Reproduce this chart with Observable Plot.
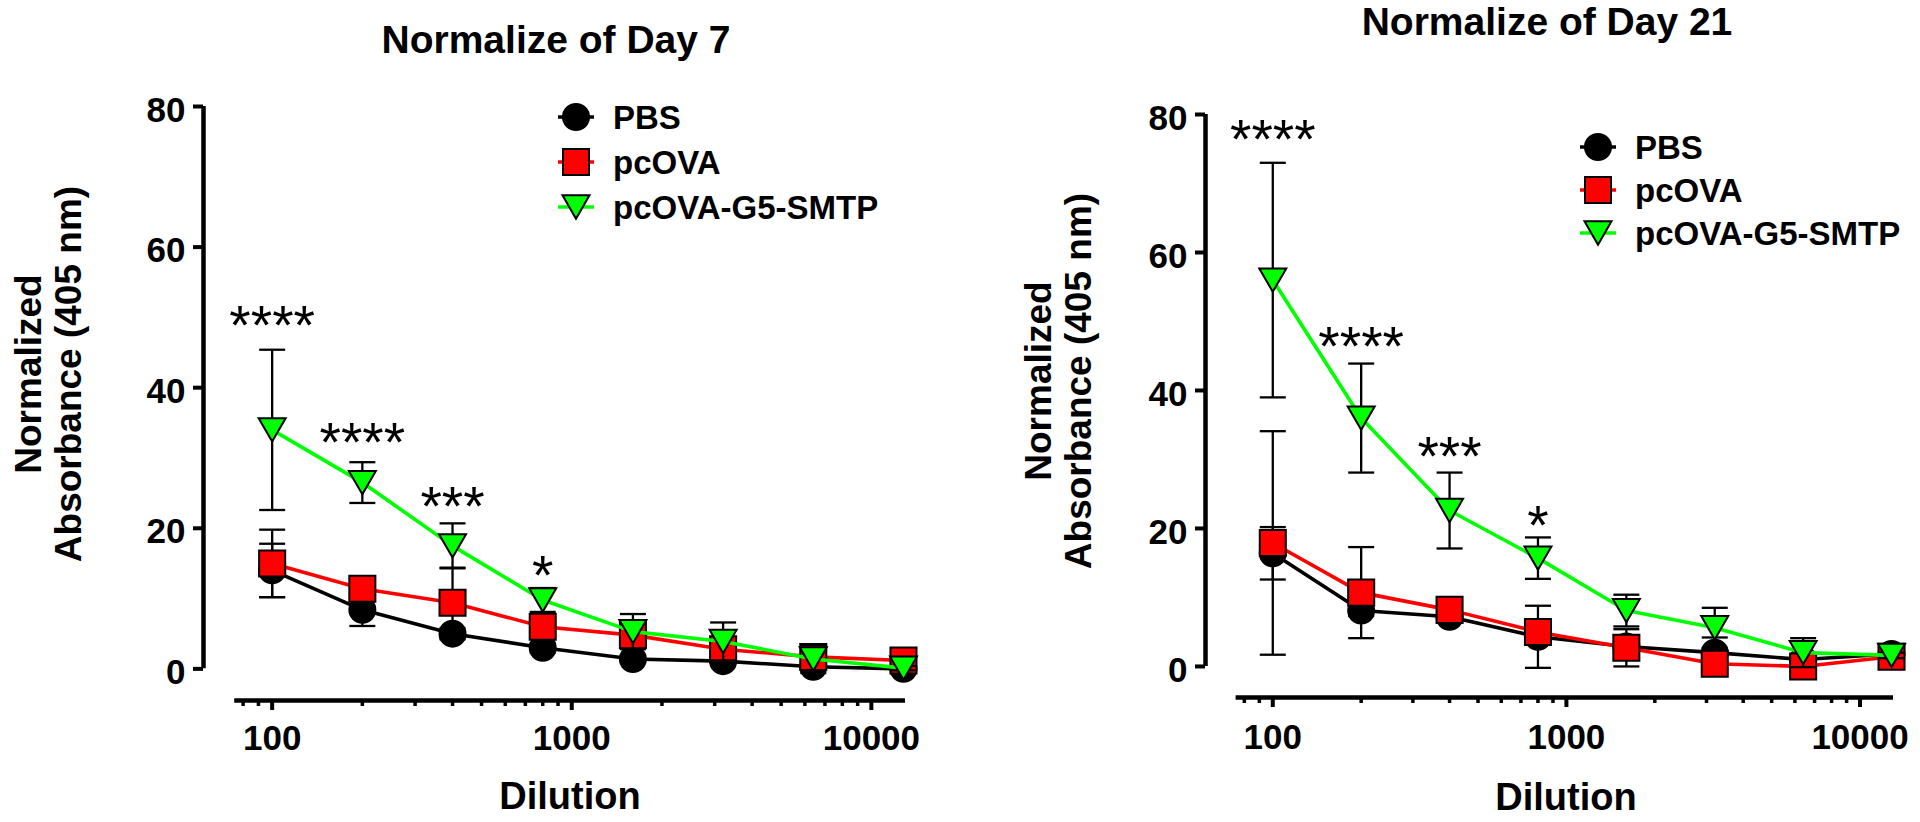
<!DOCTYPE html>
<html>
<head>
<meta charset="utf-8">
<script src="https://cdn.jsdelivr.net/npm/d3@7"></script>
<script src="https://cdn.jsdelivr.net/npm/@observablehq/plot@0.6"></script>
<style>
html, body { margin: 0; padding: 0; background: #fff; }
#root { position: relative; width: 1920px; height: 822px; overflow: hidden;
  font-family: "Liberation Sans", Arial, sans-serif; color: #000; }
.panel { position: absolute; top: 0; width: 960px; height: 822px; }
.panel > svg { position: absolute; left: 0; top: 0; }
.t { position: absolute; font-weight: bold; line-height: 1; white-space: nowrap; }
.ylab { position: absolute; width: 500px; height: 80px; font-weight: bold; font-size: 37px;
  line-height: 40px; text-align: center; transform: rotate(-90deg); white-space: nowrap; }
.leg { position: absolute; }
</style>
</head>
<body>
<div id="root"></div>
<script>
// ---------- data ----------
const dilutions = [100, 200, 400, 800, 1600, 3200, 6400, 12800];
const groups = ["PBS", "pcOVA", "pcOVA-G5-SMTP"];
const groupColors = ["#000000", "#FF0000", "#00FF00"];

// Day 7 (mean, SD)
const day7_PBS        = [14.0, 8.4, 5.0, 3.0, 1.4, 1.1, 0.3, 0.0];
const day7_PBS_err    = [3.8, 2.3, 0.8, 0.7, 0.5, 0.4, 0.3, 0.3];
const day7_pcOVA      = [15.0, 11.4, 9.4, 6.0, 4.8, 2.8, 1.7, 1.2];
const day7_pcOVA_err  = [4.8, 1.2, 5.0, 1.5, 1.0, 1.2, 1.0, 0.5];
const day7_G5         = [34.0, 26.5, 17.5, 9.8, 5.3, 3.9, 1.4, 0.1];
const day7_G5_err     = [11.4, 2.9, 3.2, 1.7, 2.5, 2.7, 2.0, 0.3];

// Day 21 (mean, SD)
const day21_PBS       = [16.4, 8.1, 7.2, 4.3, 2.9, 2.0, 1.0, 1.8];
const day21_PBS_err   = [3.8, 0.8, 0.6, 4.5, 0.5, 2.2, 0.5, 0.5];
const day21_pcOVA     = [17.9, 10.7, 8.2, 5.0, 2.7, 0.4, 0.0, 1.4];
const day21_pcOVA_err = [16.2, 6.6, 1.0, 0.8, 2.7, 0.6, 0.5, 0.5];
const day21_G5        = [56.0, 36.0, 22.6, 15.7, 8.1, 5.6, 2.0, 1.6];
const day21_G5_err    = [17.0, 7.9, 5.5, 3.0, 2.3, 2.9, 2.1, 0.4];

// significance annotations
const starDilutions = [100, 200, 400, 800];
const starLabels    = ["****", "****", "***", "*"];
const day7_starLevel  = [50.7, 34.1, 24.9, 15.1];
const day21_starLevel = [78.3, 48.3, 32.3, 22.3];

// axes
const yTicks = [0, 20, 40, 60, 80];
const xMajorTicks = [100, 1000, 10000];
const xMinorTicks = [80, 90, 200, 300, 400, 500, 600, 700, 800, 900,
                     2000, 3000, 4000, 5000, 6000, 7000, 8000, 9000];
const xDomain = [59, 13000];
const yDomain = [-4.5, 80];
const xAxisRange = [75, 13000];

const titles = ["Normalize of Day 7", "Normalize of Day 21"];
const yLabelLines = ["Normalized", "Absorbance (405 nm)"];
const xLabel = "Dilution";

// ---------- symbols ----------
const triDown = { draw(ctx, size) {
  const w = Math.sqrt(size / Math.PI), h = w * Math.sqrt(3) / 2;
  ctx.moveTo(0, h); ctx.lineTo(-w, -h); ctx.lineTo(w, -h); ctx.closePath();
}};
const capSym = { draw(ctx, size) {
  const r = Math.sqrt(size / Math.PI);
  ctx.moveTo(-r, 0); ctx.lineTo(r, 0);
}};
const groupSymbols = ["circle", "square", triDown];
const groupR = [13, 14.7, 13.5];

function makePlot(p) {
  const series = [[p.pbs, p.pbsErr], [p.ova, p.ovaErr], [p.g5, p.g5Err]];
  const marks = [
    Plot.ruleY([yDomain[0]], {x1: xAxisRange[0], x2: xAxisRange[1], stroke: "black", strokeWidth: 4.5}),
    Plot.ruleX([xDomain[0]], {y1: yTicks[0], y2: yTicks[yTicks.length - 1], stroke: "black", strokeWidth: 4.5}),
    Plot.axisY({ticks: yTicks, tickSize: 10, stroke: "black", strokeWidth: 4, fill: "none", label: null}),
    Plot.axisY({ticks: yTicks, tickSize: 0, tickPadding: 18, fontSize: 35, fontWeight: "bold", fill: "black", dy: 4, label: null}),
    Plot.axisX({ticks: xMajorTicks, tickSize: 10, stroke: "black", strokeWidth: 4, fill: "none", label: null}),
    Plot.axisX({ticks: xMinorTicks, tickSize: 6, stroke: "black", strokeWidth: 3.5, fill: "none", label: null}),
    Plot.axisX({ticks: xMajorTicks, tickSize: 0, tickPadding: 10 + p.xPad, fontSize: 35, fontWeight: "bold",
                fill: "black", tickFormat: d3.format("d"), label: null})
  ];
  series.forEach(([vals, errs], gi) => {
    const d = dilutions.map((dil, i) => ({dil, v: vals[i], e: errs[i]}));
    marks.push(
      Plot.ruleX(d, {x: "dil", y1: r => r.v - r.e, y2: r => r.v + r.e, stroke: "black", strokeWidth: 2.3}),
      Plot.dot(d, {x: "dil", y: r => r.v + r.e, symbol: capSym, r: 13, fill: "none", stroke: "black", strokeWidth: 2.3}),
      Plot.dot(d, {x: "dil", y: r => r.v - r.e, symbol: capSym, r: 13, fill: "none", stroke: "black", strokeWidth: 2.3}),
      Plot.line(d, {x: "dil", y: "v", stroke: groupColors[gi], strokeWidth: 3.6}),
      Plot.dot(d, {x: "dil", y: "v", symbol: groupSymbols[gi], r: groupR[gi], fill: groupColors[gi], stroke: "black", strokeWidth: 2})
    );
  });
  const stars = starDilutions.map((dil, i) => ({dil, y: p.stars[i], s: starLabels[i]}));
  marks.push(Plot.text(stars, {x: "dil", y: "y", text: "s", fontSize: 55, fontWeight: "normal", fill: "black", dy: 14}));
  return Plot.plot({
    width: 960, height: 822,
    marginTop: p.mt, marginBottom: p.mb, marginLeft: p.ml, marginRight: p.mr,
    x: {type: "log", domain: xDomain},
    y: {domain: yDomain},
    style: {fontFamily: "Liberation Sans, Arial, sans-serif", color: "black", background: "transparent", overflow: "visible"},
    marks
  });
}

const root = document.getElementById("root");

function addText(parent, txt, cx, baseline, fs, anchor) {
  const el = document.createElement("div");
  el.className = "t";
  el.textContent = txt;
  el.style.fontSize = fs + "px";
  el.style.top = (baseline - 0.8465 * fs) + "px";
  el.style.left = cx + "px";
  if (anchor === "middle") el.style.transform = "translateX(-50%)";
  parent.appendChild(el);
}

function legendIcon(gi) {
  const c = groupColors[gi];
  let shape;
  if (gi === 0) shape = `<circle cx="22" cy="17" r="13" fill="${c}" stroke="black" stroke-width="2"/>`;
  else if (gi === 1) shape = `<rect x="9" y="4" width="26" height="26" fill="${c}" stroke="black" stroke-width="2"/>`;
  else shape = `<path d="M22,28.7L8.5,5.3L35.5,5.3Z" fill="${c}" stroke="black" stroke-width="2"/>`;
  return `<svg width="44" height="34" viewBox="0 0 44 34"><line x1="4" y1="17" x2="40" y2="17" stroke="${c}" stroke-width="3.6"/>${shape}</svg>`;
}

const panels = [
  {left: 0, mt: 106, mb: 122, ml: 203, mr: 55, xPad: 15,
   pbs: day7_PBS, pbsErr: day7_PBS_err, ova: day7_pcOVA, ovaErr: day7_pcOVA_err, g5: day7_G5, g5Err: day7_G5_err,
   stars: day7_starLevel,
   title: titles[0], titleX: 556, titleBase: 53,
   xlabX: 570, xlabBase: 809, ylabCx: 49, ylabCy: 374,
   legX: 576, legRows: [117, 162, 207], legTx: 613},
  {left: 960, mt: 114, mb: 125, ml: 245, mr: 27, xPad: 17,
   pbs: day21_PBS, pbsErr: day21_PBS_err, ova: day21_pcOVA, ovaErr: day21_pcOVA_err, g5: day21_G5, g5Err: day21_G5_err,
   stars: day21_starLevel,
   title: titles[1], titleX: 587, titleBase: 35,
   xlabX: 606, xlabBase: 810, ylabCx: 99, ylabCy: 381,
   legX: 638, legRows: [147, 190, 233], legTx: 675}
];

panels.forEach(p => {
  const div = document.createElement("div");
  div.className = "panel";
  div.style.left = p.left + "px";
  root.appendChild(div);
  div.appendChild(makePlot(p));
  addText(div, p.title, p.titleX, p.titleBase, 39, "middle");
  addText(div, xLabel, p.xlabX, p.xlabBase, 38, "middle");
  const yl = document.createElement("div");
  yl.className = "ylab";
  yl.style.left = (p.ylabCx - 250) + "px";
  yl.style.top = (p.ylabCy - 40) + "px";
  yl.innerHTML = yLabelLines[0] + "<br>" + yLabelLines[1];
  div.appendChild(yl);
  groups.forEach((g, gi) => {
    const ic = document.createElement("div");
    ic.className = "leg";
    ic.style.left = (p.legX - 22) + "px";
    ic.style.top = (p.legRows[gi] - 17) + "px";
    ic.innerHTML = legendIcon(gi);
    div.appendChild(ic);
    addText(div, g, p.legTx, p.legRows[gi] + 11.8, 33, "start");
  });
});
</script>
</body>
</html>
